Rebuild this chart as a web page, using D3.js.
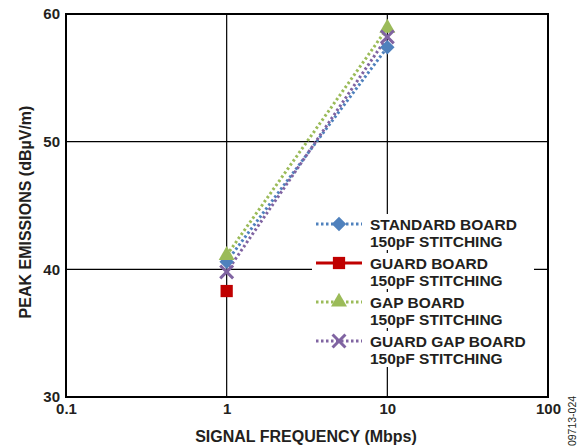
<!DOCTYPE html>
<html>
<head>
<meta charset="utf-8">
<script src="https://cdn.jsdelivr.net/npm/d3@7"></script>
<style>
  body { margin: 0; background: #fff; }
  svg { display: block; font-family: Arial, "Liberation Sans", Helvetica, sans-serif; }
</style>
</head>
<body>
<svg id="chart" width="587" height="448"></svg>
<script>
// Peak emissions vs. signal frequency for four board layouts
const frequencies = [1, 10];
const standardBoard = [40.6, 57.4];
const guardBoard = [38.3];
const gapBoard = [41.1, 58.9];
const guardGapBoard = [39.8, 58.2];

const xTicks = [0.1, 1, 10, 100];
const xTickLabels = ["0.1", "1", "10", "100"];
const yTicks = [30, 40, 50, 60];

const series = [
  { name: ["STANDARD BOARD", "150pF STITCHING"], values: standardBoard, color: "#4F81BD", symbol: "diamond", dotted: true },
  { name: ["GUARD BOARD", "150pF STITCHING"], values: guardBoard, color: "#C00000", symbol: "square", dotted: false },
  { name: ["GAP BOARD", "150pF STITCHING"], values: gapBoard, color: "#9BBB59", symbol: "triangle", dotted: true },
  { name: ["GUARD GAP BOARD", "150pF STITCHING"], values: guardGapBoard, color: "#8064A2", symbol: "cross", dotted: true }
];

const svg = d3.select("#chart");
const margin = { left: 66, right: 39, top: 14, bottom: 51 };
const W = 587, H = 448;
const x = d3.scaleLog().domain([0.1, 100]).range([margin.left, W - margin.right]);
const y = d3.scaleLinear().domain([30, 60]).range([H - margin.bottom, margin.top]);
const textColor = "#231F20";

// grid lines
const grid = svg.append("g");
grid.selectAll(".vg").data(xTicks.slice(1, -1)).join("line")
  .attr("x1", d => x(d)).attr("x2", d => x(d))
  .attr("y1", y(30)).attr("y2", y(60))
  .attr("stroke", "#000").attr("stroke-width", 1.2);
grid.selectAll(".hg").data(yTicks.slice(1, -1)).join("line")
  .attr("x1", x(0.1)).attr("x2", x(100))
  .attr("y1", d => y(d)).attr("y2", d => y(d))
  .attr("stroke", "#000").attr("stroke-width", 1.2);

// axes (labels only, the frame is drawn separately)
const xAxis = d3.axisBottom(x).tickValues(xTicks).tickFormat((d, i) => xTickLabels[i]).tickSize(0).tickPadding(6);
const gx = svg.append("g").attr("transform", `translate(0,${y(30)})`).call(xAxis);
gx.select(".domain").remove();
gx.selectAll("text").attr("font-size", 15).attr("font-weight", "bold").attr("fill", textColor)
  .attr("font-family", "Arial, 'Liberation Sans', sans-serif");

const yAxis = d3.axisLeft(y).tickValues(yTicks).tickFormat(d3.format("d")).tickSize(0).tickPadding(6);
const gy = svg.append("g").attr("transform", `translate(${x(0.1)},0)`).call(yAxis);
gy.select(".domain").remove();
gy.selectAll("text").attr("font-size", 15).attr("font-weight", "bold").attr("fill", textColor)
  .attr("font-family", "Arial, 'Liberation Sans', sans-serif");

// frame
svg.append("rect")
  .attr("x", x(0.1)).attr("y", y(60))
  .attr("width", x(100) - x(0.1)).attr("height", y(30) - y(60))
  .attr("fill", "none").attr("stroke", "#000").attr("stroke-width", 2);

// markers (the diamond is a square turned by 45 degrees)
const symbolTypes = {
  diamond: d3.symbol().type(d3.symbolSquare).size(105),
  square: d3.symbol().type(d3.symbolSquare).size(150),
  triangle: d3.symbol().type(d3.symbolTriangle).size(110),
  cross: d3.symbol().type(d3.symbolX).size(110)
};
function drawMarker(g, s, cx, cy) {
  const p = g.append("path").attr("d", symbolTypes[s.symbol]())
    .attr("transform", `translate(${cx},${cy})` + (s.symbol === "diamond" ? " rotate(45)" : ""));
  if (s.symbol === "cross") {
    p.attr("fill", "none").attr("stroke", s.color).attr("stroke-width", 3);
  } else {
    p.attr("fill", s.color);
  }
}

const line = d3.line().x((d, i) => x(frequencies[i])).y(d => y(d));
const plot = svg.append("g");
series.forEach(s => {
  if (s.values.length > 1) {
    plot.append("path").datum(s.values).attr("d", line)
      .attr("fill", "none").attr("stroke", s.color).attr("stroke-width", 3)
      .attr("stroke-dasharray", s.dotted ? "2.5,2.5" : null);
  }
});
series.forEach(s => {
  s.values.forEach((v, i) => drawMarker(plot, s, x(frequencies[i]), y(v)));
});

// legend
const legend = svg.append("g").attr("transform", "translate(316,224)");
series.forEach((s, i) => {
  const g = legend.append("g").attr("transform", `translate(0,${i * 39})`);
  g.append("rect").attr("x", -4).attr("y", -10).attr("width", 222).attr("height", 36).attr("fill", "#fff");
  g.append("line").attr("x1", 0).attr("x2", 46).attr("y1", 0).attr("y2", 0)
    .attr("stroke", s.color).attr("stroke-width", 3)
    .attr("stroke-dasharray", s.dotted ? "2.5,2.5" : null);
  drawMarker(g, s, 23, 0);
  g.selectAll("text").data(s.name).join("text")
    .attr("x", 54).attr("y", (d, j) => 5.5 + j * 17)
    .attr("font-size", 15.5).attr("font-weight", "bold").attr("fill", textColor)
    .text(d => d);
});

// axis titles
svg.append("text").attr("x", 306).attr("y", 442)
  .attr("text-anchor", "middle").attr("font-size", 16).attr("font-weight", "bold").attr("fill", textColor)
  .text("SIGNAL FREQUENCY (Mbps)");
svg.append("text").attr("transform", "translate(31,212) rotate(-90)")
  .attr("text-anchor", "middle").attr("font-size", 16).attr("font-weight", "bold").attr("fill", textColor)
  .text("PEAK EMISSIONS (dBµV/m)");

// figure code
svg.append("text").attr("transform", "translate(576,421) rotate(-90)")
  .attr("text-anchor", "middle").attr("font-size", 10.5).attr("fill", textColor)
  .text("09713-024");
</script>
</body>
</html>
